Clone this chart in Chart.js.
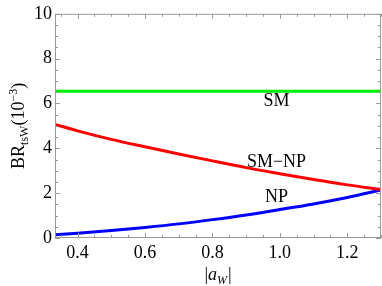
<!DOCTYPE html>
<html>
<head>
<meta charset="utf-8">
<script src="https://cdn.jsdelivr.net/npm/chart.js@4"></script>
<style>
  html, body { margin: 0; padding: 0; background: #fff; }
  #wrap { width: 382px; height: 286px; }
</style>
</head>
<body>
<div id="wrap"><canvas id="brChart"></canvas></div>
<script>
// |a_W| values and branching ratios (units of 1e-3)
const aW     = [0.333, 0.4, 0.5, 0.6, 0.7, 0.8, 0.9, 1.0, 1.1, 1.2, 1.3];
const brSM   = [6.55, 6.55, 6.55, 6.55, 6.55, 6.55, 6.55, 6.55, 6.55, 6.55, 6.55];
const brSMNP = [5.07, 4.78, 4.40, 4.07, 3.75, 3.44, 3.14, 2.87, 2.61, 2.37, 2.16];
const brNP   = [0.14, 0.21, 0.33, 0.47, 0.63, 0.82, 1.03, 1.27, 1.52, 1.81, 2.14];

const xTicks = [0.4, 0.6, 0.8, 1.0, 1.2];
const yTicks = [0, 2, 4, 6, 8, 10];

// curve labels and where they sit (data coords)
const curveNames = ['SM', 'SM\u2212NP', 'NP'];
const curveNameX = [0.99, 0.99, 0.99];
const curveNameY = [6.08, 3.36, 1.82];

const FONT = '"Liberation Serif", serif';
Chart.defaults.font.family = FONT;

function series(ys) {
  return ys.map((y, i) => ({ x: aW[i], y: y }));
}

const frameTicks = {
  id: 'frameTicks',
  afterDatasetsDraw(chart) {
    const ctx = chart.ctx;
    const a = chart.chartArea;
    const xs = chart.scales.x;
    const ys = chart.scales.y;
    ctx.save();
    ctx.strokeStyle = '#999';
    ctx.lineWidth = 1;
    ctx.strokeRect(a.left + 0.5, a.top + 0.5, a.right - a.left - 1, a.bottom - a.top - 1);

    ctx.beginPath();
    // x ticks (major every 0.2, minor every 0.05)
    for (let k = 7; k <= 26; k++) {
      const v = k * 0.05;
      if (v < xs.min || v > xs.max) continue;
      const px = Math.round(xs.getPixelForValue(v)) + 0.5;
      const len = (k % 4 === 0) ? 5 : 3;
      ctx.moveTo(px, a.bottom); ctx.lineTo(px, a.bottom - len);
      ctx.moveTo(px, a.top); ctx.lineTo(px, a.top + len);
    }
    // y ticks (major every 2, minor every 0.5)
    for (let k = 0; k <= 20; k++) {
      const v = k * 0.5;
      const py = Math.round(ys.getPixelForValue(v)) + 0.5;
      const len = (k % 4 === 0) ? 5 : 3;
      ctx.moveTo(a.left, py); ctx.lineTo(a.left + len, py);
      ctx.moveTo(a.right, py); ctx.lineTo(a.right - len, py);
    }
    ctx.stroke();

    // curve labels
    ctx.fillStyle = '#000';
    ctx.font = '18px ' + FONT;
    ctx.textAlign = 'center';
    ctx.textBaseline = 'middle';
    curveNames.forEach((t, i) => {
      ctx.fillText(t, xs.getPixelForValue(curveNameX[i]), ys.getPixelForValue(curveNameY[i]));
    });

    // x axis title: |a_W|
    ctx.textAlign = 'left';
    ctx.textBaseline = 'alphabetic';
    const cx = (a.left + a.right) / 2;
    const by = 280;
    const big = '18px ' + FONT, bigIt = 'italic 18px ' + FONT, small = 'italic 12px ' + FONT;
    const parts = [['|', big, 0], ['a', bigIt, 0], ['W', small, 4], ['|', big, 0]];
    let w = 0;
    parts.forEach(p => { ctx.font = p[1]; w += ctx.measureText(p[0]).width + (p[0] === 'W' ? 1 : 0); });
    let x = cx - w / 2;
    parts.forEach(p => {
      ctx.font = p[1];
      ctx.fillText(p[0], x, by + p[2]);
      x += ctx.measureText(p[0]).width + (p[0] === 'W' ? 1 : 0);
    });

    // y axis title: BR_tsW(10^-3)
    const yparts = [['BR', '18px ' + FONT, 0], ['tsW', '12px ' + FONT, 4], ['(10', '18px ' + FONT, 0], ['\u22123', '12px ' + FONT, -7], [')', '18px ' + FONT, 0]];
    ctx.translate(24, (a.top + a.bottom) / 2);
    ctx.rotate(-Math.PI / 2);
    w = 0;
    yparts.forEach(p => { ctx.font = p[1]; w += ctx.measureText(p[0]).width; });
    x = -w / 2;
    yparts.forEach(p => {
      ctx.font = p[1];
      ctx.fillText(p[0], x, p[2]);
      x += ctx.measureText(p[0]).width;
    });
    ctx.restore();
  }
};

function drawChart() {
  new Chart(document.getElementById('brChart'), {
    type: 'line',
    data: {
      datasets: [
        { label: 'SM', data: series(brSM), borderColor: '#00f000' },
        { label: 'SM-NP', data: series(brSMNP), borderColor: '#ff0000' },
        { label: 'NP', data: series(brNP), borderColor: '#0000ff' },
      ],
    },
    options: {
      responsive: true,
      maintainAspectRatio: false,
      animation: false,
      layout: { padding: { top: 10, right: 1, left: 0, bottom: 0 } },
      elements: {
        line: { borderWidth: 3, cubicInterpolationMode: 'monotone', fill: false },
        point: { radius: 0 },
      },
      plugins: {
        legend: { display: false },
        tooltip: { enabled: false },
      },
      scales: {
        x: {
          type: 'linear',
          min: 0.333,
          max: 1.3,
          afterBuildTicks: s => { s.ticks = xTicks.map(v => ({ value: v })); },
          afterFit: s => { s.height = 48; },
          grid: { display: false, drawTicks: false },
          border: { display: false },
          ticks: {
            padding: 4,
            color: '#000',
            font: { family: FONT, size: 18 },
            callback: v => Number(v).toFixed(1),
          },
        },
        y: {
          min: 0,
          max: 10,
          afterBuildTicks: s => { s.ticks = yTicks.map(v => ({ value: v })); },
          afterFit: s => { s.width = 55; },
          grid: { display: false, drawTicks: false },
          border: { display: false },
          ticks: {
            padding: 3,
            color: '#000',
            font: { family: FONT, size: 18 },
          },
        },
      },
    },
    plugins: [frameTicks],
  });
}

Promise.all([
  document.fonts.load('18px "Liberation Serif"'),
  document.fonts.load('italic 18px "Liberation Serif"'),
]).then(drawChart, drawChart);
</script>
</body>
</html>
